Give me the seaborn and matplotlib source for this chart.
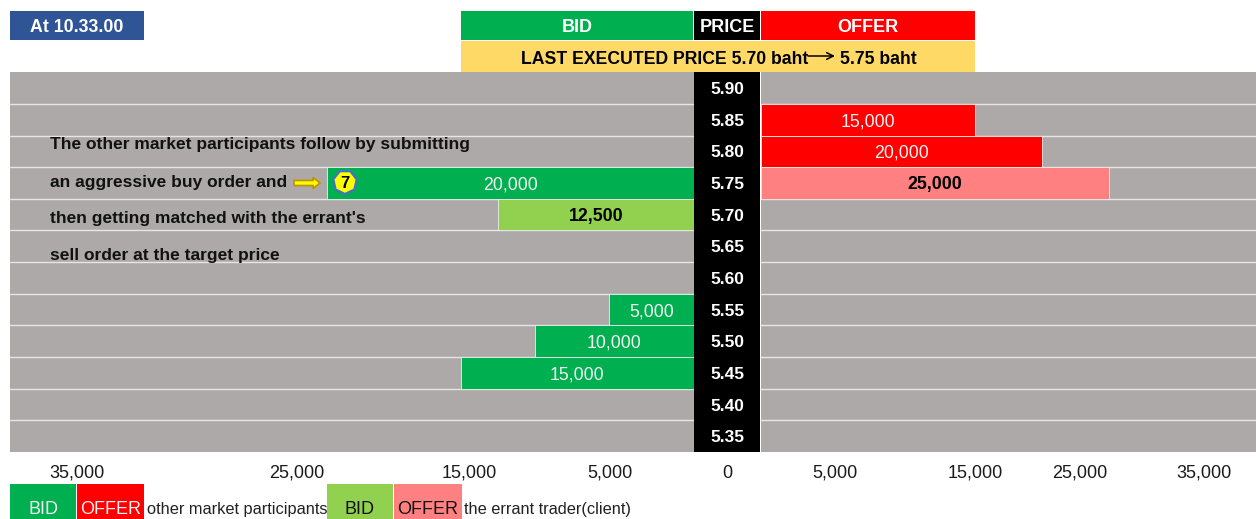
import numpy as np
import pandas as pd
import matplotlib
matplotlib.use("Agg")
import matplotlib.pyplot as plt
from matplotlib.patches import Rectangle, RegularPolygon, FancyArrow
from matplotlib.transforms import ScaledTranslation
import seaborn as sns

prices = ["5.90", "5.85", "5.80", "5.75", "5.70", "5.65", "5.60", "5.55", "5.50", "5.45", "5.40", "5.35"]
bid_qty = [None, None, None, 20000, 12500, None, None, 5000, 10000, 15000, None, None]
bid_owner = [None, None, None, "other", "errant", None, None, "other", "other", "other", None, None]
offer_qty = [None, 15000, 20000, 25000, None, None, None, None, None, None, None, None]
offer_owner = [None, "other", "other", "errant", None, None, None, None, None, None, None, None]
tick_values = [5000, 15000, 25000, 35000]
note_lines = ["The other market participants follow by submitting", "an aggressive buy order and",
              "then getting matched with the errant's", "sell order at the target price"]

# the sheet's columns are uneven, so each side has its own piecewise quantity scale
bid_scale_q = [0, 5000, 10000, 12500, 15000, 20000, 25000, 35000, 45000]
bid_scale_px = [0, 84, 158, 195, 232, 366, 396, 616, 683]
offer_scale_q = [0, 5000, 15000, 20000, 25000, 35000, 45000]
offer_scale_px = [0, 75, 215, 282, 349, 444, 496]

GRAY = "#ADA9A8"
GREEN = "#00B050"
RED = "#FF0000"
LIME = "#92D050"
PINK = "#FF8080"
W, H = 1256, 519

sns.set_theme(style="white")
plt.rcParams["font.family"] = ["Liberation Sans", "DejaVu Sans"]
fig = plt.figure(figsize=(W / 100, H / 100), dpi=100, facecolor="white")


def px_axes(x0, x1, y0, y1):
    return fig.add_axes([x0 / W, 1 - y1 / H, (x1 - x0) / W, (y1 - y0) / H])


TOP, BOTTOM = 72.2, 452
ax_bid = px_axes(10, 693.5, TOP, BOTTOM)
ax_price = px_axes(693.5, 760.5, TOP, BOTTOM)
ax_offer = px_axes(760.5, W, TOP, BOTTOM)


def draw_side(ax, qty, owner, sq, spx, palette, label_colors, xmax, inverted, shifts, fs=12.8):
    ax.set_xscale("function", functions=(lambda v: np.interp(v, sq, spx), lambda p: np.interp(p, spx, sq)))
    ax.set_facecolor(GRAY)
    df = pd.DataFrame({"price": prices, "qty": qty, "owner": owner}).dropna()
    sns.barplot(data=df, x="qty", y="price", hue="owner", order=prices, hue_order=["other", "errant"],
                palette=palette, dodge=False, width=1.0, saturation=1, legend=False, ax=ax,
                edgecolor="#EDEDED", linewidth=0.6, orient="h")
    ax.set_xlim((xmax, 0) if inverted else (0, xmax))
    ax.set_ylim(len(prices) - 0.5, -0.5)
    ax.set_xlabel("")
    ax.set_ylabel("")
    ax.set_yticks([])
    ax.set_yticks(np.arange(0.5, len(prices) - 1), minor=True)
    ax.grid(False)
    ax.grid(which="minor", axis="y", color="#E6E6E6", lw=1.0)
    ax.set_axisbelow(True)
    for s in ax.spines.values():
        s.set_visible(False)
    ax.set_xticks(tick_values)
    ax.set_xticklabels([f"{v:,}" for v in tick_values], fontsize=fs + 0.2, color="#1a1a1a")
    ax.tick_params(axis="both", which="both", length=0)
    ax.tick_params(axis="x", pad=9)
    for lab, s in zip(ax.get_xticklabels(), shifts):
        lab.set_transform(lab.get_transform() + ScaledTranslation(s / 100, 0, fig.dpi_scale_trans))
    fig.canvas.draw()
    to_ax = ax.transData + ax.transAxes.inverted()
    for group, cont in zip(["other", "errant"], ax.containers):
        for p in cont.patches:
            if not np.isfinite(p.get_width()) or p.get_width() == 0:
                continue
            a = to_ax.transform((p.get_x(), p.get_y() + p.get_height() / 2))
            b = to_ax.transform((p.get_x() + p.get_width(), p.get_y() + p.get_height() / 2))
            style = label_colors[group]
            ax.text((a[0] + b[0]) / 2, a[1], f"{abs(p.get_width()):,.0f}", transform=ax.transAxes,
                    ha="center", va="center_baseline", fontsize=fs, **style)


label_styles = {"other": {"color": "#F2F2F2"}, "errant": {"color": "black", "fontweight": "bold"}}
draw_side(ax_bid, bid_qty, bid_owner, bid_scale_q, bid_scale_px, {"other": GREEN, "errant": LIME},
          label_styles, 45000, True, [0, 8, 0, 0])
draw_side(ax_offer, offer_qty, offer_owner, offer_scale_q, offer_scale_px, {"other": RED, "errant": PINK},
          label_styles, 45000, False, [0, 0, -29, 0])

# price ladder
ax_price.set_facecolor("black")
ax_price.set_xlim(0, 1)
ax_price.set_ylim(len(prices) - 0.5, -0.5)
for s in ax_price.spines.values():
    s.set_visible(False)
ax_price.set_yticks([])
ax_price.set_xticks([0.5])
ax_price.set_xticklabels(["0"], fontsize=13, color="#1a1a1a")
ax_price.tick_params(axis="x", length=0, pad=9)
for i, p in enumerate(prices):
    ax_price.text(0.5, i, p, color="white", fontweight="bold", fontsize=12.5, ha="center", va="center_baseline")

# overlay in pixel coordinates: header, notes and key
ov = fig.add_axes([0, 0, 1, 1], facecolor="none")
ov.set_xlim(0, W)
ov.set_ylim(H, 0)
ov.axis("off")


def box(x0, x1, y0, y1, color, text=None, tcolor="white", bold=True, fs=13, ty=None):
    ov.add_patch(Rectangle((x0, y0), x1 - x0, y1 - y0, facecolor=color, edgecolor="none"))
    if text:
        ov.text((x0 + x1) / 2, (y0 + y1) / 2 if ty is None else ty, text, color=tcolor, ha="center",
                va="center_baseline", fontsize=fs, fontweight="bold" if bold else "normal")


box(10, 144, 11, 40, "#2F5597", "At 10.33.00", fs=12.8)
box(461, 693, 11, 40, GREEN, "BID")
box(694, 760, 11, 40, "black", "PRICE")
box(761, 975, 11, 40, RED, "OFFER")
box(461, 975, 41, 72, "#FFD966")
ov.text(521, 57, "LAST EXECUTED PRICE 5.70 baht", fontsize=12.7, fontweight="bold", color="black", ha="left", va="center_baseline")
ov.text(840, 57, "5.75 baht", fontsize=12.7, fontweight="bold", color="black", ha="left", va="center_baseline")
ov.annotate("", xy=(835, 56), xytext=(808, 56),
            arrowprops=dict(arrowstyle="->", lw=1.1, color="black", shrinkA=0, shrinkB=0))

for y, line in zip([143, 181, 217, 254], note_lines):
    ov.text(50, y, line, fontsize=12.5, fontweight="bold", color="#111111", ha="left", va="center_baseline")
ov.add_patch(FancyArrow(294, 183, 26, 0, width=5, head_width=11, head_length=7, length_includes_head=True,
                        facecolor="#FFFF00", edgecolor="#BF9000", lw=1.2))
ov.add_patch(RegularPolygon((345, 182), 7, radius=12, facecolor="#FFFF00", edgecolor="#4472C4", lw=1.6))
ov.text(345, 182, "7", fontsize=12, fontweight="bold", color="black", ha="center", va="center_baseline")

box(10, 76, 484, 519, GREEN, "BID", "#F2F2F2", False, 13, 508)
box(77, 144, 484, 519, RED, "OFFER", "#F2F2F2", False, 13, 508)
ov.text(147, 508, "other market participants", fontsize=11.8, color="#222222", ha="left", va="center_baseline")
box(327, 393, 484, 519, LIME, "BID", "#111111", False, 13, 508)
box(394, 462, 484, 519, PINK, "OFFER", "#111111", False, 13, 508)
ov.text(464, 508, "the errant trader(client)", fontsize=11.8, color="#222222", ha="left", va="center_baseline")

fig.savefig("out.png", dpi=100)
